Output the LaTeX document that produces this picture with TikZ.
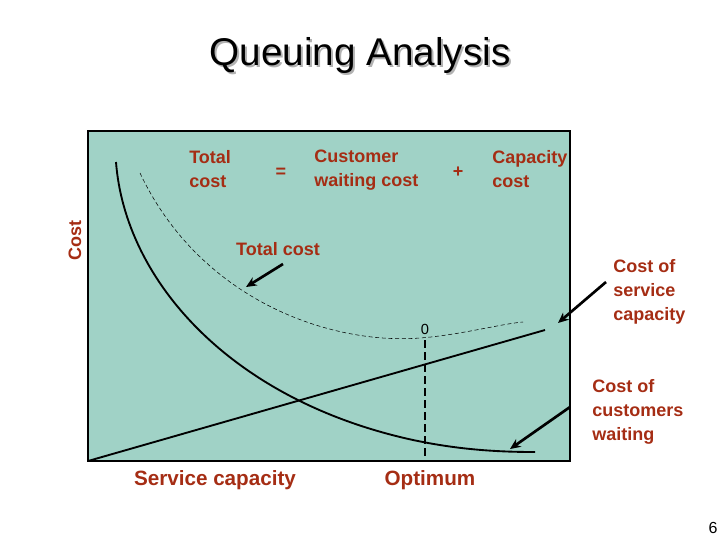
\documentclass[tikz,border=0pt]{standalone}
\usepackage{fontspec}
\setmainfont{Liberation Sans}
\usetikzlibrary{arrows.meta}
\definecolor{plotbg}{RGB}{160,210,198}
\definecolor{lbl}{RGB}{165,45,20}
\begin{document}
\begin{tikzpicture}[x=0.75pt,y=-0.75pt,
  lab/.style={text=lbl,font=\fontsize{13.5}{18}\selectfont\bfseries,align=left,inner sep=0},
  curve/.style={line width=1.4pt},
  pointer/.style={line width=2pt,-{Stealth[length=8pt,width=7pt]}}]
\useasboundingbox (0,0) rectangle (720,540);
\node[font=\fontsize{29}{34}\selectfont,text=gray!60] (tsh) at (362,57) {Queuing Analysis};
\node[font=\fontsize{29}{34}\selectfont] (title) at (360,55) {Queuing Analysis};
\draw[fill=plotbg,line width=1.5pt] (88,131) rectangle (570,461);
% curves
\draw[curve] (116,162) .. controls (125,280) and (230,400) .. (413,440) .. controls (460,450) and (500,452) .. (535,452);
\draw[curve] (88,461) -- (545,330);
\draw[dashed,thin,dash pattern=on 3pt off 2pt] (140,173) .. controls (200,300) and (330,345) .. (420,338) .. controls (460,335) and (500,324) .. (523,322);
\coordinate (opttop) at (425,340);
\coordinate (optbot) at (425,461);
\draw[line width=1.3pt,dash pattern=on 6pt off 3pt] (opttop) -- (optbot);
\node[font=\fontsize{11}{12}\selectfont] (zero) at (425,329) {0};
% equation
\node[lab,anchor=north west] (t1) at (189,150) {Total\\cost};
\node[lab] (eq) at (281,173) {=};
\node[lab,anchor=north west] (t2) at (314,150) {Customer\\waiting cost};
\node[lab] (plus) at (458,172) {+};
\node[lab,anchor=north west] (t3) at (492,150) {Capacity\\cost};
\node[lab] (tc) at (278,249) {Total cost};
\node[lab,anchor=north west] (sc) at (613,259) {Cost of\\service\\capacity};
\node[lab,anchor=north west] (cw) at (592,379) {Cost of\\customers\\waiting};
\node[lab,rotate=90] (cost) at (75,240) {Cost};
\node[lab,font=\fontsize{15.5}{18}\selectfont\bfseries] (sv) at (215,480) {Service capacity};
\node[lab,font=\fontsize{15.5}{18}\selectfont\bfseries] (op) at (430,480) {Optimum};
\node[font=\fontsize{12}{14}\selectfont] (pg) at (713,528) {6};
% pointers
\coordinate (a1s) at (283,264); \coordinate (a1e) at (246,287);
\coordinate (a2s) at (606,282); \coordinate (a2e) at (558,323);
\coordinate (a3s) at (570,407); \coordinate (a3e) at (510,449);
\draw[pointer] (a1s) -- (a1e);
\draw[pointer] (a2s) -- (a2e);
\draw[pointer] (a3s) -- (a3e);
\end{tikzpicture}
\end{document}
